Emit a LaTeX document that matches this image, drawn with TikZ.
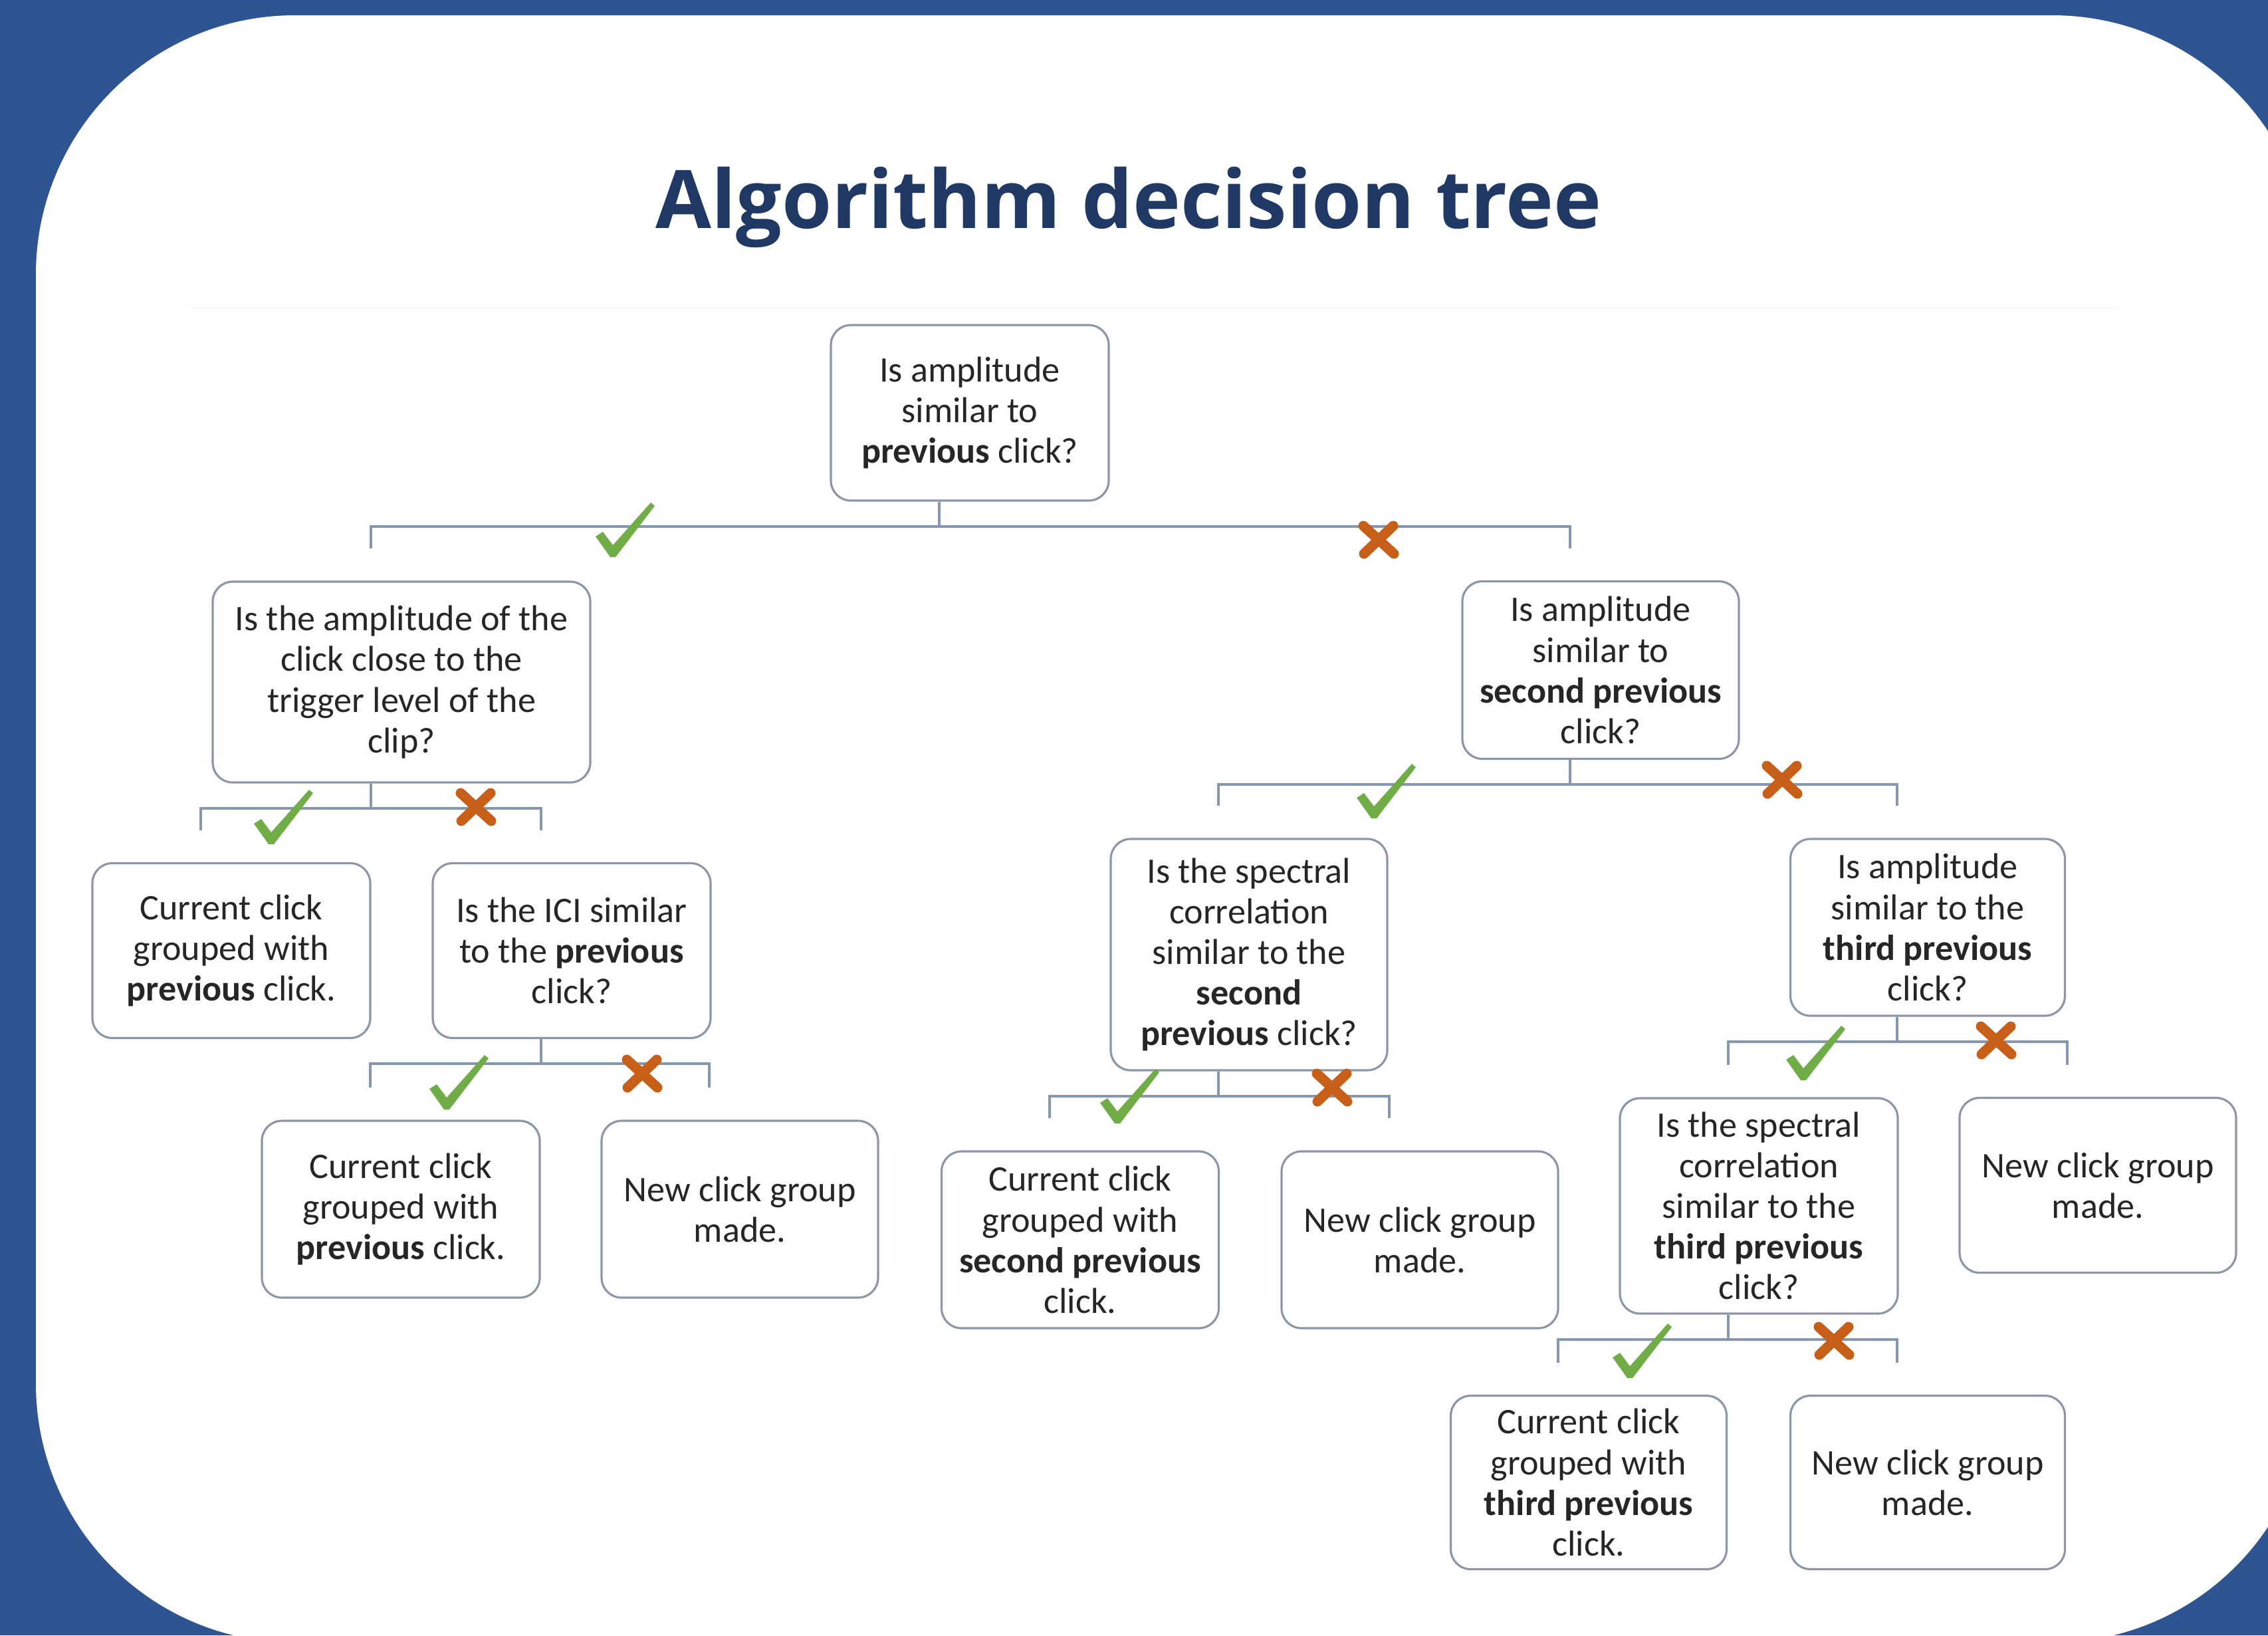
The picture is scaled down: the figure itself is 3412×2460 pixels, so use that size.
\documentclass[tikz,border=0pt]{standalone}
\usepackage{fontspec}
\setmainfont{Carlito}
\newfontfamily\titlefont{Open Sans}
\definecolor{bgblue}{RGB}{46,85,146}
\definecolor{titleblue}{RGB}{32,56,100}
\definecolor{linec}{RGB}{132,150,176}
\definecolor{boxc}{RGB}{140,150,166}
\definecolor{okgreen}{RGB}{112,173,71}
\definecolor{nored}{RGB}{200,95,25}
\newcommand\treebranch[2]{\draw[conn] ([xshift=-4.6mm]#1.south) -- ++(0,37) -| ([xshift=-4.6mm,yshift=4.8mm]#2.north);}
\begin{document}
\begin{tikzpicture}[x=0.1mm,y=-0.1mm,
  box/.style={draw=boxc, line width=0.9pt, rounded corners=3mm, fill=white, align=center,
    inner sep=0pt, font=\fontsize{15.4}{17.4}\selectfont, text=black!85},
  sz/.style 2 args={minimum width=#1*0.1mm, minimum height=#2*0.1mm},
  conn/.style={draw=linec, line width=1.1pt},
  tickmark/.pic={\fill[okgreen] (-26,-27) -- (-15,-34) -- (0,-14) -- (57,-78) -- (63,-73) -- (4,4) -- (-4,4) -- cycle;},
  crossmark/.pic={\draw[nored, line width=1.5mm, line cap=round] (-23,-21) -- (23,21) (-22,21) -- (22,-21);}
]
\useasboundingbox (0,0) rectangle (3412,2460);
\clip (0,0) rectangle (3412,2460);
\fill[bgblue] (0,0) rectangle (3412,2460);
\fill[white, rounded corners=39mm] (54,23) rectangle (3477,2471);
\draw[black!2.5, line width=1pt] (286,463) -- (3190,463);

\node[font=\titlefont\bfseries\fontsize{34.6}{42}\selectfont, text=titleblue, anchor=base] (title) at (1698,343) {Algorithm decision tree};

\node[box, sz={418}{264}] (root) at (1459,621) {Is amplitude\\similar to\\\textbf{previous} click?};
\node[box, sz={568}{302}] (q2a) at (604,1026) {Is the amplitude of the\\click close to the\\trigger level of the\\clip?};
\node[box, sz={416}{267}] (q2b) at (2408,1008) {Is amplitude\\similar to\\\textbf{second previous}\\click?};
\node[box, sz={418}{263}] (ra) at (348,1430) {Current click\\grouped with\\\textbf{previous} click.};
\node[box, sz={418}{263}] (q3a) at (860,1430) {Is the ICI similar\\to the \textbf{previous}\\click?};
\node[box, sz={416}{348}] (q3b) at (1879,1436) {Is the spectral\\correlation\\similar to the\\\textbf{second}\\\textbf{previous} click?};
\node[box, sz={413}{266}] (q3c) at (2900,1395) {Is amplitude\\similar to the\\\textbf{third previous}\\click?};
\node[box, sz={418}{266}] (rb) at (603,1819) {Current click\\grouped with\\\textbf{previous} click.};
\node[box, sz={416}{266}] (nb) at (1113,1819) {New click group\\made.};
\node[box, sz={417}{266}] (rc) at (1625,1865) {Current click\\grouped with\\\textbf{second previous}\\click.};
\node[box, sz={416}{266}] (nc) at (2136,1865) {New click group\\made.};
\node[box, sz={418}{324}] (q4) at (2646,1814) {Is the spectral\\correlation\\similar to the\\\textbf{third previous}\\click?};
\node[box, sz={416}{263}] (nd) at (3156,1783) {New click group\\made.};
\node[box, sz={415}{261}] (re) at (2390,2230) {Current click\\grouped with\\\textbf{third previous}\\click.};
\node[box, sz={413}{261}] (ne) at (2900,2230) {New click group\\made.};

\treebranch{root}{q2a}
\treebranch{root}{q2b}
\treebranch{q2a}{ra}
\treebranch{q2a}{q3a}
\treebranch{q2b}{q3b}
\treebranch{q2b}{q3c}
\treebranch{q3a}{rb}
\treebranch{q3a}{nb}
\treebranch{q3b}{rc}
\treebranch{q3b}{nc}
\treebranch{q3c}{q4}
\treebranch{q3c}{nd}
\treebranch{q4}{re}
\treebranch{q4}{ne}

\pic at (922,834) {tickmark};
\pic at (408,1266) {tickmark};
\pic at (2067,1227) {tickmark};
\pic at (672,1665) {tickmark};
\pic at (1681,1686) {tickmark};
\pic at (2713,1621) {tickmark};
\pic at (2452,2069) {tickmark};

\pic at (2074,812) {crossmark};
\pic at (716,1214) {crossmark};
\pic at (2681,1173) {crossmark};
\pic at (966,1615) {crossmark};
\pic at (2004,1636) {crossmark};
\pic at (3003,1565) {crossmark};
\pic at (2759,2017) {crossmark};
\end{tikzpicture}
\end{document}
